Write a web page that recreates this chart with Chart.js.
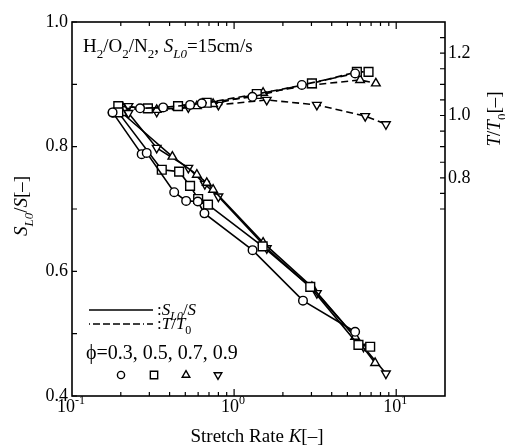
<!DOCTYPE html>
<html><head><meta charset="utf-8">
<script src="https://cdn.jsdelivr.net/npm/chart.js@4.4.0/dist/chart.umd.min.js"></script>
<style>html,body{margin:0;padding:0;background:#fff;}canvas{display:block;}</style>
</head><body>
<canvas id="c" width="505" height="446"></canvas>
<script>
// ---------- data ----------
const phiLabels = ['0.3', '0.5', '0.7', '0.9'];

// S_L0/S vs K (left axis)
const sK_03 = [0.178, 0.269, 0.289, 0.427, 0.506, 0.597, 0.656, 1.30, 2.66, 5.58];
const sV_03 = [0.855, 0.788, 0.790, 0.727, 0.713, 0.712, 0.693, 0.634, 0.553, 0.503];
const sK_05 = [0.193, 0.358, 0.458, 0.535, 0.60, 0.69, 1.50, 2.95, 5.85, 6.91];
const sV_05 = [0.855, 0.763, 0.760, 0.737, 0.716, 0.707, 0.640, 0.575, 0.482, 0.479];
const sK_07 = [0.204, 0.416, 0.589, 0.678, 0.742, 1.51, 3.02, 5.58, 7.41];
const sV_07 = [0.854, 0.784, 0.755, 0.742, 0.731, 0.646, 0.575, 0.495, 0.453];
const sK_09 = [0.223, 0.333, 0.522, 0.66, 0.800, 1.59, 3.24, 6.28, 8.64];
const sV_09 = [0.854, 0.798, 0.766, 0.740, 0.720, 0.637, 0.565, 0.479, 0.436];

// T/T0 vs K (right axis)
const tK_03 = [0.178, 0.263, 0.365, 0.535, 0.632, 1.297, 2.618, 5.58];
const tV_03 = [1.009, 1.023, 1.026, 1.034, 1.039, 1.060, 1.098, 1.135];
const tK_05 = [0.193, 0.294, 0.451, 0.678, 1.38, 3.02, 5.72, 6.75];
const tV_05 = [1.030, 1.023, 1.030, 1.041, 1.069, 1.103, 1.140, 1.140];
const tK_07 = [0.208, 0.333, 0.589, 0.742, 1.51, 3.02, 5.99, 7.49];
const tV_07 = [1.023, 1.018, 1.030, 1.037, 1.073, 1.098, 1.114, 1.103];
const tK_09 = [0.223, 0.333, 0.522, 0.800, 1.59, 3.24, 6.44, 8.64];
const tV_09 = [1.030, 1.012, 1.026, 1.034, 1.050, 1.034, 0.998, 0.972];

// axis ticks
const xTickVals = [0.2,0.3,0.4,0.5,0.6,0.7,0.8,0.9,1,2,3,4,5,6,7,8,9,10];
const xMajorVals = [0.1, 1, 10];
const xLabelExps = ['-1', '0', '1'];
const yTickVals = [0.4,0.5,0.6,0.7,0.8,0.9,1.0];
const yLabelVals = [0.4,0.6,0.8,1.0];
const y2TickVals = [0.7,0.75,0.8,0.85,0.9,0.95,1.0,1.05,1.1,1.15,1.2,1.25];
const y2LabelVals = [0.8,1.0,1.2];

// ---------- styling ----------
const FAM = '"Liberation Serif", "Times New Roman", serif';
const styles = [
  {pointStyle:'circle', r:4.3, rot:0},
  {pointStyle:'rect', r:6.2, rot:0},
  {pointStyle:'triangle', r:5.0, rot:0},
  {pointStyle:'triangle', r:5.0, rot:180}
];
const sSets = [[sK_03,sV_03],[sK_05,sV_05],[sK_07,sV_07],[sK_09,sV_09]];
const tSets = [[tK_03,tV_03],[tK_05,tV_05],[tK_07,tV_07],[tK_09,tV_09]];

function mk(pair, st, axis, dashed, lbl){
  return {
    label: lbl,
    data: pair[0].map((k,i)=>({x:k, y:pair[1][i]})),
    yAxisID: axis, showLine: true, tension: 0,
    borderColor:'#000', borderWidth:1.6, borderDash: dashed ? [7,4] : [],
    pointStyle: st.pointStyle, pointRadius: st.r, pointRotation: st.rot,
    pointBackgroundColor:'#fff', pointBorderColor:'#000', pointBorderWidth:1.4
  };
}
const datasets = [];
sSets.forEach((p,i)=>datasets.push(mk(p, styles[i], 'y', false, 'S phi='+phiLabels[i])));
tSets.forEach((p,i)=>datasets.push(mk(p, styles[i], 'y2', true, 'T phi='+phiLabels[i])));

function rich(ctx, parts, x, y, size, align){
  const fontFor = p => (p.i ? 'italic ' : '') + ((p.sub||p.sup) ? Math.round(size*0.68) : size) + 'px ' + FAM;
  let w = 0;
  parts.forEach(p=>{ ctx.font = fontFor(p); p.w = ctx.measureText(p.t).width; w += p.w; });
  let cx = align==='center' ? x - w/2 : (align==='right' ? x - w : x);
  ctx.textAlign = 'left'; ctx.textBaseline = 'alphabetic';
  parts.forEach(p=>{
    ctx.font = fontFor(p);
    const dy = p.sub ? size*0.3 : (p.sup ? -size*0.45 : 0);
    ctx.fillText(p.t, cx, y + dy); cx += p.w;
  });
  return w;
}
function marker(ctx, st, x, y, r){
  ctx.beginPath();
  if (st.pointStyle === 'circle') { ctx.arc(x, y, r, 0, Math.PI*2); }
  else if (st.pointStyle === 'rect') { const h = r*Math.SQRT1_2; ctx.rect(x-h, y-h, 2*h, 2*h); }
  else {
    let a = st.rot*Math.PI/180;
    ctx.moveTo(x + Math.sin(a)*r, y - Math.cos(a)*r);
    a += 2*Math.PI/3; ctx.lineTo(x + Math.sin(a)*r, y - Math.cos(a)*r);
    a += 2*Math.PI/3; ctx.lineTo(x + Math.sin(a)*r, y - Math.cos(a)*r);
    ctx.closePath();
  }
  ctx.fillStyle = '#fff'; ctx.fill(); ctx.stroke();
}

const decor = {
  id: 'decor',
  afterDraw(chart){
    const ctx = chart.ctx, a = chart.chartArea;
    const xs = chart.scales.x, ys = chart.scales.y, y2 = chart.scales.y2;
    ctx.save();
    ctx.strokeStyle = '#000'; ctx.fillStyle = '#000';
    ctx.lineWidth = 1.6;
    ctx.strokeRect(a.left, a.top, a.right - a.left, a.bottom - a.top);
    ctx.lineWidth = 1.2;
    ctx.beginPath();
    xTickVals.forEach(v=>{
      const p = xs.getPixelForValue(v);
      const L = xMajorVals.includes(v) ? 7 : 4;
      ctx.moveTo(p, a.bottom); ctx.lineTo(p, a.bottom - L);
      ctx.moveTo(p, a.top); ctx.lineTo(p, a.top + L);
    });
    yTickVals.forEach(v=>{
      const p = ys.getPixelForValue(v);
      ctx.moveTo(a.left, p); ctx.lineTo(a.left + 5, p);
    });
    y2TickVals.forEach(v=>{
      const p = y2.getPixelForValue(v);
      ctx.moveTo(a.right, p); ctx.lineTo(a.right - 5, p);
    });
    ctx.stroke();

    // x tick labels 10^n
    ctx.fillStyle = '#000';
    xMajorVals.forEach((v,i)=>{
      const p = xs.getPixelForValue(v);
      rich(ctx, [{t:'10'},{t:xLabelExps[i], sup:true}], p - 1, 412, 18, 'center');
    });
    // axis titles
    rich(ctx, [{t:'Stretch Rate '},{t:'K', i:true},{t:'[\u2013]'}], 257, 442, 19, 'center');
    ctx.save(); ctx.translate(27, 206); ctx.rotate(-Math.PI/2);
    rich(ctx, [{t:'S', i:true},{t:'L0', i:true, sub:true},{t:'/'},{t:'S', i:true},{t:'[\u2013]'}], 0, 0, 19, 'center');
    ctx.restore();
    ctx.save(); ctx.translate(500, 119); ctx.rotate(-Math.PI/2);
    rich(ctx, [{t:'T', i:true},{t:'/'},{t:'T', i:true},{t:'0', sub:true},{t:'[\u2013]'}], 0, 0, 19, 'center');
    ctx.restore();

    // annotation
    rich(ctx, [{t:'H'},{t:'2',sub:true},{t:'/O'},{t:'2',sub:true},{t:'/N'},{t:'2',sub:true},{t:', '},
               {t:'S',i:true},{t:'L0',i:true,sub:true},{t:'=15cm/s'}], 83, 52, 19, 'left');

    // legend
    ctx.lineWidth = 1.4;
    ctx.beginPath(); ctx.setLineDash([]); ctx.moveTo(89, 310); ctx.lineTo(153, 310); ctx.stroke();
    ctx.beginPath(); ctx.setLineDash([1,3,7,3,7,3,7,3,7,3,7,3]); ctx.moveTo(89, 324); ctx.lineTo(153, 324); ctx.stroke();
    ctx.setLineDash([]);
    rich(ctx, [{t:':'},{t:'S',i:true},{t:'L0',i:true,sub:true},{t:'/'},{t:'S',i:true}], 157, 315, 17, 'left');
    rich(ctx, [{t:':'},{t:'T',i:true},{t:'/'},{t:'T',i:true},{t:'0',sub:true}], 157, 329, 17, 'left');
    rich(ctx, [{t:'\u03D5=' + phiLabels.join(', ')}], 86, 359, 20, 'left');
    const lx = [121, 154, 186, 218];
    ctx.lineWidth = 1.4;
    styles.forEach((st,i)=>{
      const r = st.pointStyle==='circle' ? 3.6 : (st.pointStyle==='rect' ? 5.2 : 4.4);
      marker(ctx, st, lx[i], 375, r);
    });
    ctx.restore();
  }
};

const near = (v, arr) => arr.some(a => Math.abs(a - v) < 1e-6);

new Chart(document.getElementById('c'), {
  type: 'scatter',
  data: { datasets },
  options: {
    responsive: false, animation: false,
    layout: { padding: { top: 22, left: 0, right: 0, bottom: 0 } },
    plugins: { legend: { display: false }, tooltip: { enabled: false } },
    scales: {
      x: {
        type: 'logarithmic', position: 'bottom', min: 0.1, max: 20,
        grid: { display: false, drawTicks: false }, border: { display: false },
        ticks: { display: false },
        afterBuildTicks: s => { s.ticks = xTickVals.map(v => ({ value: v })); },
        afterFit: s => { s.height = 50; }
      },
      y: {
        type: 'linear', position: 'left', min: 0.4, max: 1.0,
        grid: { display: false, drawTicks: false }, border: { display: false },
        ticks: { color: '#000', padding: 4, font: { family: FAM, size: 18 },
                 callback: v => near(v, yLabelVals) ? v.toFixed(1) : '' },
        afterBuildTicks: s => { s.ticks = yTickVals.map(v => ({ value: v })); },
        afterFit: s => { s.width = 72; }
      },
      y2: {
        type: 'linear', position: 'right', min: 0.1, max: 1.3,
        grid: { display: false, drawTicks: false }, border: { display: false },
        ticks: { color: '#000', padding: 3, font: { family: FAM, size: 18 },
                 callback: v => near(v, y2LabelVals) ? v.toFixed(1) : '' },
        afterBuildTicks: s => { s.ticks = y2TickVals.map(v => ({ value: v })); },
        afterFit: s => { s.width = 60; }
      }
    }
  },
  plugins: [decor]
});
</script>
</body></html>
